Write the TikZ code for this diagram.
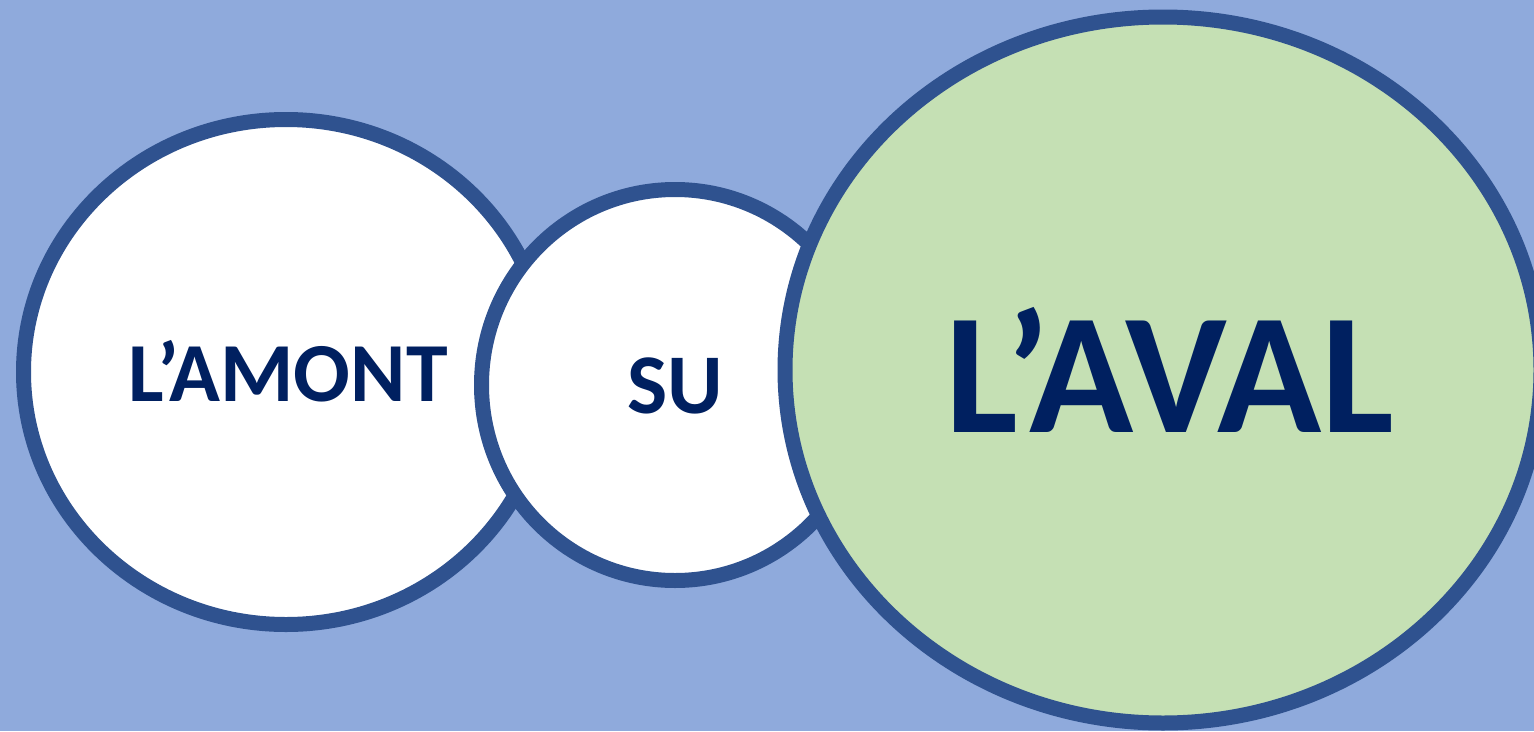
\documentclass[tikz,border=0pt]{standalone}
\usepackage{fontspec}
\setmainfont{Carlito}
\definecolor{bgblue}{HTML}{8FAADC}
\definecolor{rimblue}{HTML}{2F528F}
\definecolor{softgreen}{HTML}{C5E0B4}
\definecolor{inkblue}{HTML}{002060}
\begin{document}
\begin{tikzpicture}[x=1pt,y=-1pt,
  bubble/.style={draw=rimblue,line width=15pt},
  label/.style={anchor=base,inner sep=0pt,text=inkblue,font=\bfseries}]
\useasboundingbox (0,0) rectangle (1534,731);
\clip (0,0) rectangle (1534,731);
\fill[bgblue] (0,0) rectangle (1534,731);
\filldraw[bubble,fill=white] (286,372) ellipse [x radius=262.5, y radius=252.5];
\filldraw[bubble,fill=white] (675,385) ellipse [x radius=193.5, y radius=195.5];
\filldraw[bubble,fill=softgreen] (1163,370) ellipse [x radius=378, y radius=353];
\node[label,font=\bfseries\fontsize{84}{84}\selectfont] (amont) at (288,401) {L’AMONT};
\node[label,font=\bfseries\fontsize{85}{85}\selectfont] (su) at (675,413) {SU};
\node[label,font=\bfseries\fontsize{172}{172}\selectfont] (aval) at (1170,432) {L’AVAL};
\end{tikzpicture}
\end{document}
